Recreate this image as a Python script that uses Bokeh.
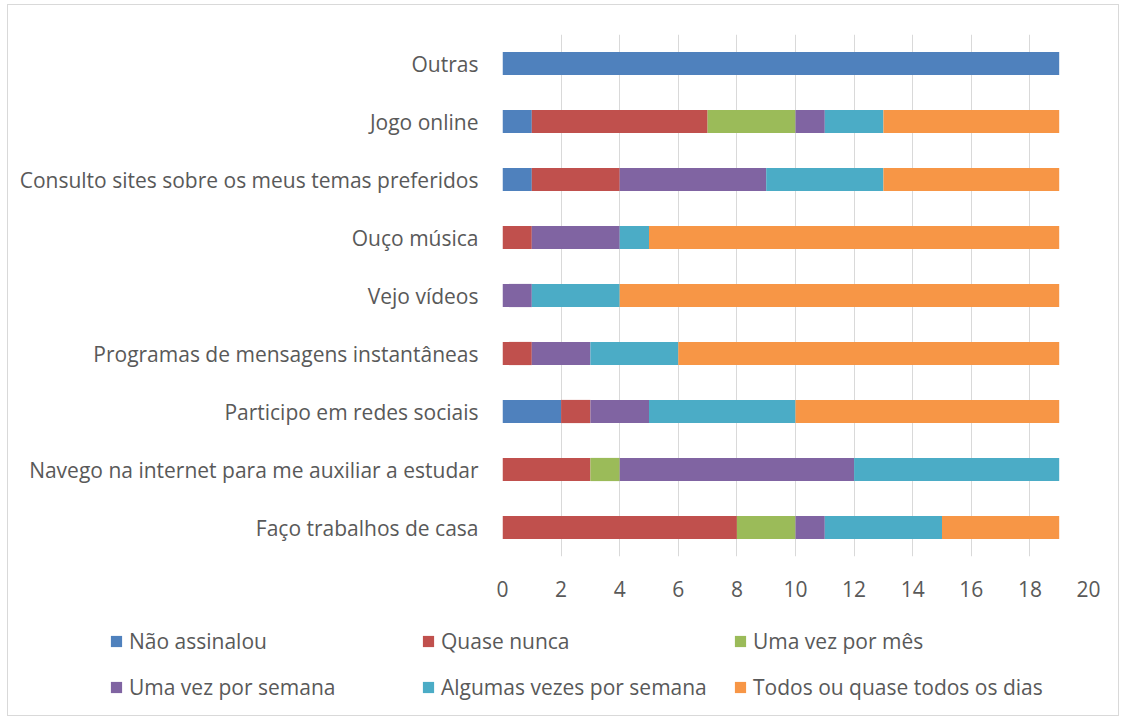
from bokeh.plotting import figure
from bokeh.layouts import column
from bokeh.models import FactorRange, Legend, LegendItem, FixedTicker, ColumnDataSource, Range1d
from bokeh.embed import file_html
from bokeh.resources import INLINE

categories = ["Faço trabalhos de casa",
              "Navego na internet para me auxiliar a estudar",
              "Participo em redes sociais",
              "Programas de mensagens instantâneas",
              "Vejo vídeos",
              "Ouço música",
              "Consulto sites sobre os meus temas preferidos",
              "Jogo online",
              "Outras"]
series = ["Não assinalou", "Quase nunca", "Uma vez por mês",
          "Uma vez por semana", "Algumas vezes por semana",
          "Todos ou quase todos os dias"]
nao_assinalou = [0, 0, 2, 0, 0, 0, 1, 1, 19]
quase_nunca = [8, 3, 1, 1, 0, 1, 3, 6, 0]
uma_vez_mes = [2, 1, 0, 0, 0, 0, 0, 3, 0]
uma_vez_semana = [1, 8, 2, 2, 1, 3, 5, 1, 0]
algumas_vezes = [4, 7, 5, 3, 3, 1, 4, 2, 0]
todos_dias = [4, 0, 9, 13, 15, 14, 6, 6, 0]
x_ticks = [0, 2, 4, 6, 8, 10, 12, 14, 16, 18, 20]
colors = ["#4F81BD", "#C0504D", "#9BBB59", "#8064A2", "#4BACC6", "#F79646"]

keys = ["s0", "s1", "s2", "s3", "s4", "s5"]
source = ColumnDataSource(dict(cat=categories, s0=nao_assinalou, s1=quase_nunca,
                               s2=uma_vez_mes, s3=uma_vez_semana,
                               s4=algumas_vezes, s5=todos_dias))

FONT = "Open Sans"
TXT = "#595959"
FS = "21px"

p = figure(width=1110, height=607, y_range=FactorRange(*categories),
           x_range=Range1d(0, 20), output_backend="svg", toolbar_location=None,
           min_border_left=494, min_border_right=30, min_border_top=29,
           min_border_bottom=56)
p.outline_line_color = None
p.frame_align = False

p.hbar_stack(keys, y="cat", height=0.4, fill_color=colors, line_color=None,
             source=source)

p.xaxis.ticker = FixedTicker(ticks=x_ticks)
p.xgrid.grid_line_color = "#D9D9D9"
p.ygrid.grid_line_color = None
for ax in (p.xaxis, p.yaxis):
    ax.axis_line_color = None
    ax.major_tick_line_color = None
    ax.minor_tick_line_color = None
    ax.major_label_text_font = FONT
    ax.major_label_text_color = TXT
    ax.major_label_text_font_size = FS
p.xaxis.major_label_standoff = 18
p.yaxis.major_label_standoff = 18

# legend panel (a frameless figure underneath the chart)
leg = figure(width=1110, height=103, output_backend="svg", toolbar_location=None,
             x_axis_location=None, y_axis_location=None,
             min_border_left=0, min_border_right=0, min_border_top=0,
             min_border_bottom=0, x_range=Range1d(0, 1), y_range=Range1d(0, 1))
leg.outline_line_color = None
leg.frame_align = False
leg.xgrid.grid_line_color = None
leg.ygrid.grid_line_color = None
# zero-width proxy bars, used only to carry the legend swatches
proxy = ColumnDataSource(dict(y=[0], right=[0]))
items = []
for s, c in zip(series, colors):
    r = leg.hbar(y="y", right="right", height=0.4, fill_color=c, line_color=None,
                 source=proxy)
    items.append(LegendItem(label=s, renderers=[r]))
legend = Legend(items=items, orientation="horizontal", ncols=3,
                location=(101, 5), padding=0, margin=0, spacing=0,
                glyph_width=14, glyph_height=14, label_standoff=6,
                label_width=292, label_height=46,
                label_text_font=FONT, label_text_font_size=FS,
                label_text_color=TXT, border_line_color=None,
                background_fill_alpha=0)
leg.add_layout(legend, "center")

layout = column(p, leg, spacing=0,
                styles={"border": "1px solid #D9D9D9", "margin-left": "7px",
                        "margin-top": "4px"})

open("out.html", "w").write(file_html(layout, INLINE))
